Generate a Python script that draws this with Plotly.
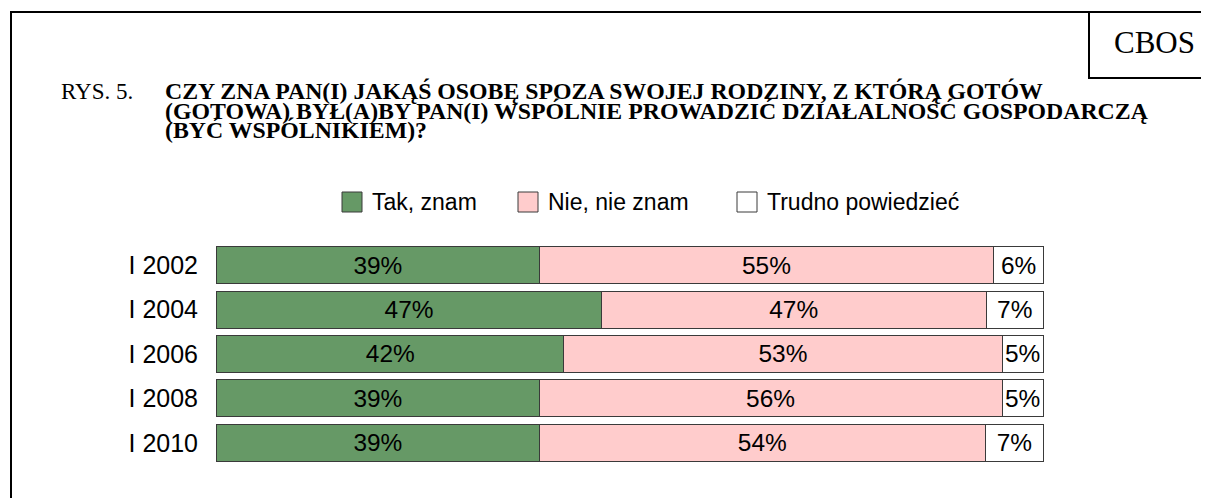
import plotly.graph_objects as go

categories = ["I 2002", "I 2004", "I 2006", "I 2008", "I 2010"]
series_names = ["Tak, znam", "Nie, nie znam", "Trudno powiedzieć"]
tak = [39, 47, 42, 39, 39]
nie = [55, 47, 53, 56, 54]
trudno = [6, 7, 5, 5, 7]
colors = ["#669966", "#FFCCCC", "#FFFFFF"]

title_prefix = "RYS. 5."
title_lines = [
    "CZY ZNA PAN(I) JAKĄŚ OSOBĘ SPOZA SWOJEJ RODZINY, Z KTÓRĄ GOTÓW",
    "(GOTOWA) BYŁ(A)BY PAN(I) WSPÓLNIE PROWADZIĆ DZIAŁALNOŚĆ GOSPODARCZĄ",
    "(BYĆ WSPÓLNIKIEM)?",
]
brand = "CBOS"

OFF = 8  # page body margin
W, H = 1209 - OFF, 498 - OFF
X0, X1 = 217, 1043          # page pixels where 0% and 100% fall
XMIN, XMAX = -0.2, 100.2    # small padding so bar outlines are not clipped
SCALE = (X1 - X0) / 100.0
left_px = X0 + XMIN * SCALE
right_px = X0 + XMAX * SCALE
L = round(left_px - OFF)
R = round(W - (right_px - OFF))
T, B = 243 - OFF, H - (465 - OFF)
PW, PH = W - L - R, H - T - B


def xp(px):  # page pixel -> paper
    return (px - OFF - L) / PW


def yp(py):
    return (H - B - (py - OFF)) / PH


fig = go.Figure()
for name, vals, col in zip(series_names, [tak, nie, trudno], colors):
    fig.add_trace(go.Bar(
        y=categories, x=vals, name=name, orientation="h",
        marker=dict(color=col, line=dict(color="#3a3a3a", width=1)),
        text=[f"{v}%" for v in vals], textposition="inside",
        insidetextanchor="middle",
        textfont=dict(family="Liberation Sans, Arial", size=24.5, color="black"),
        showlegend=False,
    ))

shapes = [
    dict(type="rect", xref="paper", yref="paper", x0=xp(11), x1=xp(1240),
         y0=yp(530), y1=yp(12), line=dict(color="black", width=2)),
    dict(type="rect", xref="paper", yref="paper", x0=xp(1089), x1=xp(1240),
         y0=yp(78), y1=yp(12), line=dict(color="black", width=2)),
]

annotations = [
    dict(text=brand, xref="paper", yref="paper", x=xp(1154), y=yp(42.5),
         xanchor="center", yanchor="middle", showarrow=False,
         font=dict(family="Liberation Serif, Times New Roman", size=31, color="black")),
    dict(text=title_prefix, xref="paper", yref="paper", x=xp(59), y=yp(91),
         xanchor="left", yanchor="middle", showarrow=False,
         font=dict(family="Liberation Serif, Times New Roman", size=23, color="black")),
]
line_y = [91, 110.5, 130]
for txt, ly in zip(title_lines, line_y):
    annotations.append(dict(
        text=f"<b>{txt}</b>", xref="paper", yref="paper", x=xp(163), y=yp(ly),
        xanchor="left", yanchor="middle", showarrow=False,
        font=dict(family="Liberation Serif, Times New Roman", size=23.8, color="black")))

legend_sq_x = [342, 518, 737]
legend_y = 202
for name, col, sx in zip(series_names, colors, legend_sq_x):
    shapes.append(dict(type="rect", xref="paper", yref="paper",
                       x0=xp(sx), x1=xp(sx + 20), y0=yp(legend_y + 10), y1=yp(legend_y - 10),
                       fillcolor=col, line=dict(color="#3a3a3a", width=1)))
    annotations.append(dict(text=name, xref="paper", yref="paper", x=xp(sx + 28), y=yp(legend_y),
                            xanchor="left", yanchor="middle", showarrow=False,
                            font=dict(family="Liberation Sans, Arial", size=23, color="black")))

fig.update_layout(
    width=W, height=H,
    margin=dict(l=L, r=R, t=T, b=B, pad=0),
    barmode="stack", barnorm="percent", bargap=0.167,
    plot_bgcolor="white", paper_bgcolor="white",
    shapes=shapes, annotations=annotations,
    uniformtext=dict(minsize=24, mode="show"),
    xaxis=dict(range=[XMIN, XMAX], visible=False, showgrid=False, zeroline=False, fixedrange=True),
    yaxis=dict(autorange="reversed", showgrid=False, zeroline=False, showline=False,
               ticks="", ticklabelstandoff=16,
               tickfont=dict(family="Liberation Sans, Arial", size=25, color="black")),
    showlegend=False,
)

fig.write_html("out.html", config={"displayModeBar": False})
